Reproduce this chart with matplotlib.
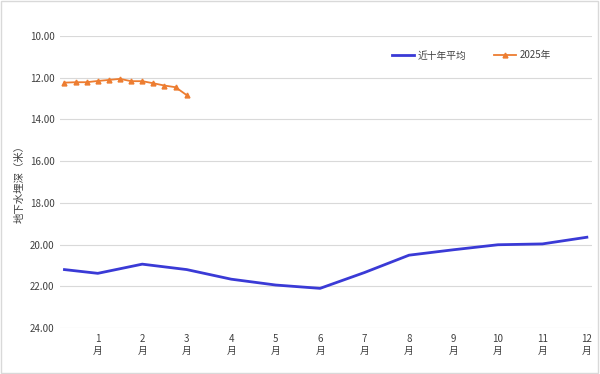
import matplotlib.pyplot as plt
from matplotlib.patches import Rectangle

plt.rcParams['font.family'] = ['Noto Sans CJK SC', 'DejaVu Sans']

# 近十年平均 (起点 + 1~12月)
avg_x = [0.25, 1, 2, 3, 4, 5, 6, 7, 8, 9, 10, 11, 12]
avg_y = [21.20, 21.38, 20.94, 21.20, 21.66, 21.94, 22.10, 21.34, 20.51, 20.25, 20.01, 19.97, 19.65]

# 2025年 (每旬)
y2025_x = [0.25, 0.5, 0.75, 1.0, 1.25, 1.5, 1.75, 2.0, 2.25, 2.5, 2.75, 3.0]
y2025_y = [12.24, 12.22, 12.22, 12.16, 12.11, 12.06, 12.17, 12.17, 12.27, 12.38, 12.46, 12.84]

months = list(range(1, 13))
month_labels = [f"{m}\n月" for m in months]
y_ticks = [10, 12, 14, 16, 18, 20, 22, 24]

fig = plt.figure(figsize=(6.0, 3.74), dpi=100)
ax = fig.add_axes([0.100, 0.123, 0.887, 0.781])

ax.plot(avg_x, avg_y, color="#3a3ad6", linewidth=2.0, label="近十年平均")
ax.plot(y2025_x, y2025_y, color="#ed7d31", linewidth=1.3, marker="^",
        markersize=3.5, label="2025年")

ax.set_ylim(24, 10)
ax.set_xlim(0.15, 12.12)
ax.set_yticks(y_ticks)
ax.set_yticklabels([f"{v:.2f}" for v in y_ticks], fontsize=7, color="#404040")
ax.set_xticks(months)
ax.set_xticklabels(month_labels, fontsize=7, color="#404040", linespacing=1.3)
ax.tick_params(length=0, pad=4)
ax.grid(axis="y", color="#d9d9d9", linewidth=0.8)
for s in ax.spines.values():
    s.set_visible(False)
ax.set_ylabel("地下水埋深（米）", fontsize=7.5, color="#404040", labelpad=4)

ax.legend(loc="upper right", bbox_to_anchor=(0.94, 0.98), ncol=2, frameon=False,
          fontsize=7, handlelength=2.3, handletextpad=0.4, columnspacing=2.8,
          labelcolor="#404040")

fig.patches.append(Rectangle((0.002, 0.003), 0.995, 0.993, transform=fig.transFigure,
                             fill=False, edgecolor="#d9d9d9", linewidth=1))

fig.savefig("out.png", dpi=100)
